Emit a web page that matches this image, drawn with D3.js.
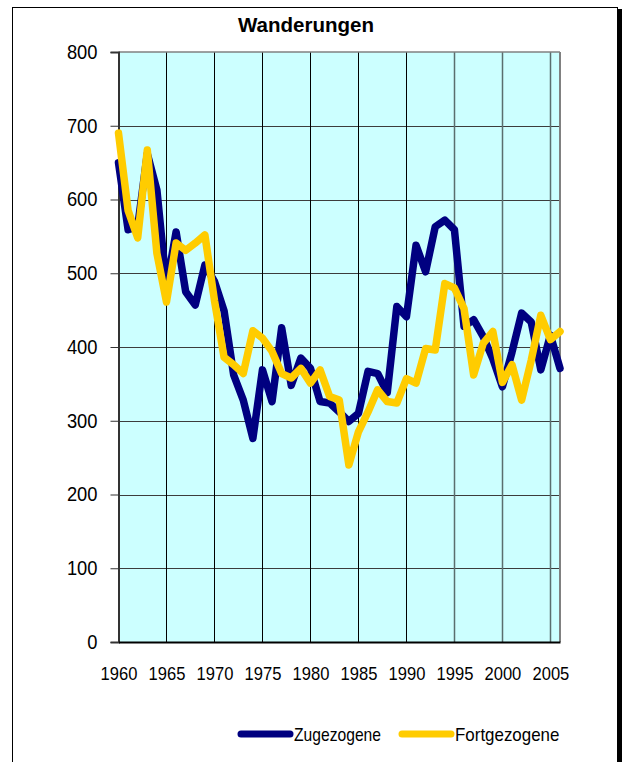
<!DOCTYPE html>
<html>
<head>
<meta charset="utf-8">
<script src="https://cdn.jsdelivr.net/npm/d3@7"></script>
<style>
  body { margin: 0; background: #fff; }
  svg { display: block; font-family: "Liberation Sans", Arial, sans-serif; }
</style>
</head>
<body>
<div id="chart"></div>
<script>
// data
const years = d3.range(1960, 2007);
const zugezogene = [650, 559, 563, 662, 613, 482, 556, 475, 457, 511,
                    489, 449, 362, 328, 276, 369, 326, 426, 348, 385,
                    371, 326, 324, 312, 299, 310, 367, 364, 338, 455,
                    441, 538, 502, 563, 572, 559, 428, 437, 414, 384,
                    346, 393, 446, 434, 369, 416, 371];
const fortgezogene = [690, 585, 548, 667, 527, 461, 541, 531, 541, 552,
                      463, 386, 376, 364, 422, 412, 394, 364, 358, 371,
                      351, 369, 333, 328, 240, 285, 312, 342, 326, 324,
                      357, 351, 398, 396, 486, 480, 452, 362, 405, 421,
                      352, 376, 328, 382, 443, 410, 421];
const yTicks = [0, 100, 200, 300, 400, 500, 600, 700, 800];
const xTicks = [1960, 1965, 1970, 1975, 1980, 1985, 1990, 1995, 2000, 2005];
const series = [
  {name: "Zugezogene", values: zugezogene, color: "#000080"},
  {name: "Fortgezogene", values: fortgezogene, color: "#ffcc00"}
];

const width = 627, height = 762;
const plotLeft = 118.5, plotRight = 560, plotTop = 52, plotBottom = 642;

// narrow, tall text like the original chart font
function squeeze(sel, perChar) {
    sel.attr("textLength", function () { return this.textContent.length * perChar; })
       .attr("lengthAdjust", "spacingAndGlyphs");
}

const svg = d3.select("#chart").append("svg")
    .attr("width", width)
    .attr("height", height);

// outer frame with dark edge on the right
svg.append("rect")
    .attr("x", 12.5).attr("y", 7.5)
    .attr("width", 605).attr("height", 780)
    .attr("fill", "#fff")
    .attr("stroke", "#000").attr("stroke-width", 1);
svg.append("rect")
    .attr("x", 618).attr("y", 9)
    .attr("width", 4).attr("height", 760)
    .attr("fill", "#000");

const x = d3.scaleLinear().domain([1960, 2006]).range([plotLeft, plotRight]);
const y = d3.scaleLinear().domain([0, 800]).range([plotBottom, plotTop]);

// plot area
svg.append("rect")
    .attr("x", plotLeft).attr("y", plotTop)
    .attr("width", plotRight - plotLeft).attr("height", plotBottom - plotTop)
    .attr("fill", "#ccffff");

// grid
svg.append("g")
    .selectAll("line")
    .data(yTicks.slice(1, -1))
    .join("line")
    .attr("x1", plotLeft).attr("x2", plotRight)
    .attr("y1", d => Math.round(y(d)) + 0.5)
    .attr("y2", d => Math.round(y(d)) + 0.5)
    .attr("stroke", "#3c3c3c");

svg.append("g")
    .selectAll("line")
    .data(xTicks.slice(1))
    .join("line")
    .attr("x1", d => Math.round(x(d)) + 0.5)
    .attr("x2", d => Math.round(x(d)) + 0.5)
    .attr("y1", plotTop).attr("y2", plotBottom)
    .attr("stroke", d => d >= 1995 ? "#5a6e6e" : "#000")
    .attr("stroke-width", d => d >= 1995 ? 1.5 : 1);

// plot borders
svg.append("line")
    .attr("x1", plotLeft).attr("x2", plotRight)
    .attr("y1", plotTop).attr("y2", plotTop)
    .attr("stroke", "#808080").attr("stroke-width", 1.5);
svg.append("line")
    .attr("x1", plotRight).attr("x2", plotRight)
    .attr("y1", plotTop).attr("y2", plotBottom)
    .attr("stroke", "#808080").attr("stroke-width", 2);

// y axis
const yAxis = svg.append("g")
    .attr("transform", `translate(${plotLeft},0)`)
    .call(d3.axisLeft(y).tickValues(yTicks).tickSize(8).tickPadding(13));
yAxis.select(".domain").attr("stroke", "#333").attr("stroke-width", 2);
yAxis.selectAll(".tick line").attr("stroke", "#333");
yAxis.selectAll("text")
    .attr("fill", "#000")
    .style("font-size", "19.5px")
    .call(squeeze, 10.2);

// x axis
const xAxis = svg.append("g")
    .attr("transform", `translate(0,${plotBottom})`)
    .call(d3.axisBottom(x).tickValues(xTicks).tickFormat(d3.format("d")).tickSize(0).tickPadding(25));
xAxis.select(".domain").attr("stroke", "#000").attr("stroke-width", 2);
xAxis.selectAll("text")
    .attr("fill", "#000")
    .style("font-size", "18.5px")
    .call(squeeze, 9.2);

// lines
const line = d3.line()
    .x((d, i) => x(years[i]))
    .y(d => y(d));

svg.append("g")
    .selectAll("path")
    .data(series)
    .join("path")
    .attr("d", d => line(d.values))
    .attr("fill", "none")
    .attr("stroke", d => d.color)
    .attr("stroke-width", 7.5)
    .attr("stroke-linejoin", "round")
    .attr("stroke-linecap", "round");

// title
svg.append("text")
    .attr("x", 238).attr("y", 32)
    .style("font-size", "20px")
    .style("font-weight", "bold")
    .attr("textLength", 136)
    .attr("lengthAdjust", "spacingAndGlyphs")
    .text("Wanderungen");

// legend
const legend = svg.append("g")
    .selectAll("g")
    .data(series)
    .join("g")
    .attr("transform", (d, i) => `translate(${[241, 402][i]},734)`);
legend.append("line")
    .attr("x1", 0).attr("x2", 49)
    .attr("stroke", d => d.color)
    .attr("stroke-width", 7)
    .attr("stroke-linecap", "round");
legend.append("text")
    .attr("x", 53).attr("y", 7)
    .style("font-size", "19px")
    .text(d => d.name)
    .call(squeeze, 8.7);
</script>
</body>
</html>
